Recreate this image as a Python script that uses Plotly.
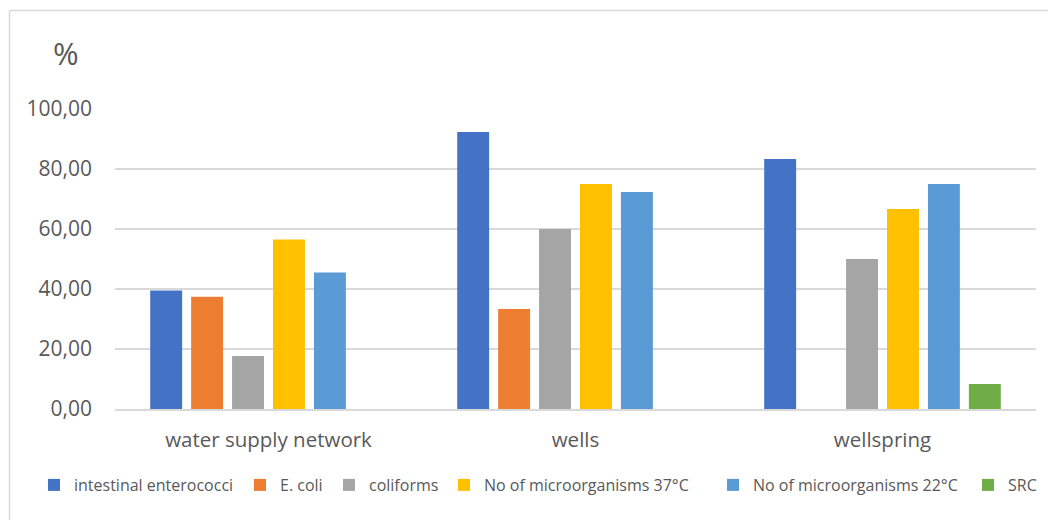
import plotly.graph_objects as go

categories = ["water supply network", "wells", "wellspring"]
series_names = ["intestinal enterococci", "E. coli", "coliforms",
                "No of microorganisms 37°C", "No of microorganisms 22°C", "SRC"]
intestinal_enterococci = [39.5, 92.3, 83.3]
e_coli = [37.4, 33.3, 0.0]
coliforms = [17.7, 60.0, 50.0]
micro_37 = [56.5, 75.0, 66.7]
micro_22 = [45.5, 72.3, 75.0]
src = [0.0, 0.0, 8.3]
colors = ["#4472C4", "#ED7D31", "#A5A5A5", "#FFC000", "#5B9BD5", "#70AD47"]
tick_vals = [0, 20, 40, 60, 80, 100]

values = [intestinal_enterococci, e_coli, coliforms, micro_37, micro_22, src]

# legend entry positions (left edge of the colour square, reference px)
legend_left_px = [54, 260, 349, 464, 733, 988]

FONT = "Open Sans"

# page has an 8px body margin; reference pixel coords are offset accordingly
OFF = 8
W, H = 1056 - OFF, 520 - OFF
L, T = 115 - OFF, 109 - OFF
pw, ph = 921, 300
R = W - L - pw
B = H - T - ph

def px_x(x):
    return (x - OFF - L) / pw

def px_y(y):
    return (T + ph - (y - OFF)) / ph

fig = go.Figure()
legend_layouts = {}
for i, (name, vals, col, lx) in enumerate(zip(series_names, values, colors, legend_left_px)):
    key = "legend" if i == 0 else f"legend{i + 1}"
    fig.add_trace(go.Bar(name=name, x=categories, y=vals, marker_color=col,
                         marker_line_width=0, legend=key))
    legend_layouts[key] = dict(
        orientation="h", xref="container", yref="container",
        x=(lx - 20 - OFF) / W, xanchor="left",
        y=(H - (485 - OFF)) / H, yanchor="middle",
        font=dict(size=16, color="#595959", family=FONT),
        itemwidth=30, bgcolor="rgba(0,0,0,0)",
    )

fig.update_layout(
    width=W, height=H,
    margin=dict(l=L, r=R, t=T, b=B, autoexpand=False),
    paper_bgcolor="white", plot_bgcolor="white",
    barmode="group", bargap=0.2, bargroupgap=0.22,
    separators=",.",
    font=dict(family=FONT, color="#595959"),
    showlegend=True,
    xaxis=dict(showgrid=False, showline=True, linecolor="#D9D9D9", linewidth=1.5,
               tickfont=dict(size=20.5, color="#595959"), ticks="",
               ticklabelstandoff=12, automargin=False),
    yaxis=dict(range=[0, 100], tickvals=tick_vals, tickformat=".2f",
               showgrid=True, gridcolor="#D9D9D9", gridwidth=1.5,
               zeroline=False, showline=False, ticks="",
               tickfont=dict(size=21, color="#595959"), ticklabelstandoff=22,
               automargin=False),
    shapes=[
        dict(type="line", xref="paper", yref="paper",
             x0=px_x(9.5), x1=px_x(1070), y0=px_y(10.5), y1=px_y(10.5),
             line=dict(color="#D9D9D9", width=1.5)),
        dict(type="line", xref="paper", yref="paper",
             x0=px_x(9.5), x1=px_x(9.5), y0=px_y(10.5), y1=px_y(530),
             line=dict(color="#D9D9D9", width=1.5)),
    ],
    annotations=[
        dict(text="%", xref="paper", yref="paper", x=px_x(66), y=px_y(53),
             xanchor="center", yanchor="middle", showarrow=False,
             font=dict(size=31, color="#595959", family=FONT)),
    ],
    **legend_layouts,
)

fig.write_html("out.html")
